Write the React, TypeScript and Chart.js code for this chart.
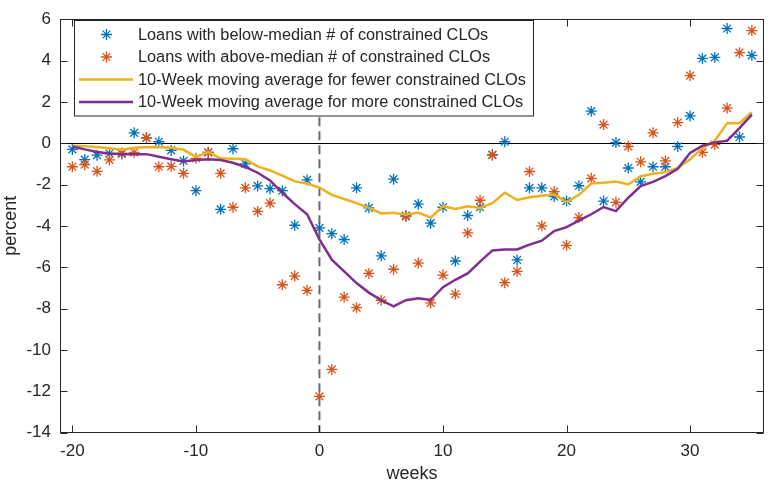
import React, { useEffect, useRef } from 'react';
import { Chart, registerables } from 'chart.js';
Chart.register(...registerables);

const weeks = [-20, -19, -18, -17, -16, -15, -14, -13, -12, -11, -10, -9, -8, -7, -6, -5, -4, -3, -2, -1, 0, 1, 2, 3, 4, 5, 6, 7, 8, 9, 10, 11, 12, 13, 14, 15, 16, 17, 18, 19, 20, 21, 22, 23, 24, 25, 26, 27, 28, 29, 30, 31, 32, 33, 34, 35];

const belowMedian = [-0.3, -0.8, -0.58, -0.5, -0.52, 0.5, 0.25, 0.07, -0.35, -0.86, -2.3, -0.45, -3.2, -0.27, -1.0, -2.07, -2.2, -2.3, -3.97, -1.78, -4.1, -4.38, -4.66, -2.16, -3.13, -5.45, -1.74, -3.5, -2.95, -3.87, -3.1, -5.7, -3.5, -3.1, -0.55, 0.07, -5.65, -2.16, -2.16, -2.58, -2.8, -2.06, 1.55, -2.8, 0.03, -1.2, -1.87, -1.14, -1.14, -0.16, 1.32, 4.1, 4.15, 5.55, 0.3, 4.25];

const aboveMedian = [-1.14, -1.04, -1.36, -0.81, -0.48, -0.45, 0.27, -1.14, -1.12, -1.46, -0.73, -0.44, -1.46, -3.1, -2.16, -3.3, -2.9, -6.85, -6.43, -7.12, -12.25, -10.95, -7.45, -7.96, -6.3, -7.6, -6.1, -3.55, -5.8, -7.73, -6.38, -7.3, -4.34, -2.76, -0.58, -6.75, -6.2, -1.37, -4.0, -2.34, -4.94, -3.6, -1.7, 0.9, -2.86, -0.15, -0.9, 0.5, -0.86, 1.0, 3.27, -0.44, -0.07, 1.7, 4.38, 5.45];

const maFewer = [-0.12, -0.15, -0.19, -0.25, -0.32, -0.22, -0.2, -0.19, -0.22, -0.32, -0.66, -0.43, -0.73, -0.75, -0.78, -1.12, -1.32, -1.57, -1.85, -1.95, -2.15, -2.5, -2.7, -2.9, -3.13, -3.4, -3.37, -3.46, -3.36, -3.6, -3.05, -3.18, -3.05, -3.13, -2.9, -2.4, -2.75, -2.62, -2.54, -2.48, -2.85, -2.5, -1.95, -1.92, -1.86, -2.0, -1.6, -1.48, -1.4, -1.2, -0.78, -0.25, 0.12, 0.97, 0.97, 1.5];

const maMore = [-0.16, -0.3, -0.43, -0.5, -0.53, -0.53, -0.53, -0.66, -0.78, -0.89, -0.81, -0.78, -0.81, -0.95, -1.15, -1.43, -1.8, -2.4, -2.95, -3.44, -4.65, -5.64, -6.2, -6.77, -7.23, -7.6, -7.9, -7.6, -7.51, -7.59, -6.97, -6.61, -6.3, -5.73, -5.19, -5.14, -5.14, -4.91, -4.72, -4.25, -4.06, -3.75, -3.44, -3.09, -3.29, -2.64, -2.08, -1.87, -1.59, -1.24, -0.47, -0.12, 0.04, 0.12, 0.73, 1.38];

const xTicks = [-20, -10, 0, 10, 20, 30];
const yTicks = [-14, -12, -10, -8, -6, -4, -2, 0, 2, 4, 6];

const legendLabels = [
  'Loans with below-median # of constrained CLOs',
  'Loans with above-median # of constrained CLOs',
  '10-Week moving average for fewer constrained CLOs',
  '10-Week moving average for more constrained CLOs',
];

const BLUE = '#0072BD';
const ORANGE = '#D95319';
const YELLOW = '#EDB120';
const PURPLE = '#7E2F8E';
const AX = '#262626';
const FONT = '"Liberation Sans", Arial, Helvetica, sans-serif';

function drawStar(ctx: CanvasRenderingContext2D, x: number, y: number, r: number, color: string) {
  ctx.save();
  ctx.strokeStyle = color;
  ctx.lineWidth = 1.3;
  ctx.beginPath();
  ctx.moveTo(x - r, y); ctx.lineTo(x + r, y);
  ctx.moveTo(x, y - r); ctx.lineTo(x, y + r);
  const d = r * Math.SQRT1_2;
  ctx.moveTo(x - d, y - d); ctx.lineTo(x + d, y + d);
  ctx.moveTo(x - d, y + d); ctx.lineTo(x + d, y - d);
  ctx.stroke();
  ctx.restore();
}

export default function App() {
  const ref = useRef<HTMLCanvasElement>(null);
  useEffect(() => {
    document.body.style.margin = '0';
    const canvas = ref.current!;
    const pts = (ys: number[]) => weeks.map((w, i) => ({ x: w, y: ys[i] }));

    const framePlugin = {
      id: 'frame',
      beforeDatasetsDraw(chart: any) {
        const { ctx, chartArea: a, scales } = chart;
        const x = scales.x, y = scales.y;
        ctx.save();
        const y0 = Math.round(y.getPixelForValue(0)) + 0.5;
        ctx.strokeStyle = '#000';
        ctx.lineWidth = 1;
        ctx.beginPath(); ctx.moveTo(a.left, y0); ctx.lineTo(a.right, y0); ctx.stroke();
        const x0 = x.getPixelForValue(0);
        ctx.strokeStyle = '#6a6a6a';
        ctx.lineWidth = 2;
        ctx.setLineDash([9, 5]);
        ctx.beginPath(); ctx.moveTo(x0, a.top); ctx.lineTo(x0, a.bottom); ctx.stroke();
        ctx.restore();
      },
      afterDraw(chart: any) {
        const { ctx, chartArea: a, scales } = chart;
        const x = scales.x, y = scales.y;
        ctx.save();
        ctx.strokeStyle = AX;
        ctx.lineWidth = 1;
        const L = Math.round(a.left) + 0.5, R = Math.round(a.right) - 0.5;
        const T = Math.round(a.top) + 0.5, B = Math.round(a.bottom) - 0.5;
        ctx.strokeRect(L, T, R - L, B - T);
        const tl = 7;
        ctx.beginPath();
        xTicks.forEach((v) => {
          const px = Math.round(x.getPixelForValue(v)) + 0.5;
          ctx.moveTo(px, B); ctx.lineTo(px, B - tl);
          ctx.moveTo(px, T); ctx.lineTo(px, T + tl);
        });
        yTicks.forEach((v) => {
          const py = Math.round(y.getPixelForValue(v)) + 0.5;
          ctx.moveTo(L, py); ctx.lineTo(L + tl, py);
          ctx.moveTo(R, py); ctx.lineTo(R - tl, py);
        });
        ctx.stroke();
        ctx.fillStyle = AX;
        ctx.font = `18px ${FONT}`;
        ctx.textAlign = 'center';
        ctx.textBaseline = 'middle';
        ctx.fillText('weeks', (a.left + a.right) / 2, 474);
        ctx.save();
        ctx.translate(11, (a.top + a.bottom) / 2);
        ctx.rotate(-Math.PI / 2);
        ctx.fillText('percent', 0, 0);
        ctx.restore();
        const bx = 74.5, by = 20.5, bw = 459, bh = 95.5;
        ctx.fillStyle = '#ffffff';
        ctx.fillRect(bx, by, bw, bh);
        ctx.strokeStyle = AX;
        ctx.lineWidth = 1;
        ctx.strokeRect(bx, by, bw, bh);
        const rows = [34.5, 57, 79.5, 102];
        drawStar(ctx, 106.5, rows[0], 5.5, BLUE);
        drawStar(ctx, 106.5, rows[1], 5.5, ORANGE);
        ctx.lineWidth = 2.5;
        ctx.strokeStyle = YELLOW;
        ctx.beginPath(); ctx.moveTo(79, rows[2]); ctx.lineTo(133, rows[2]); ctx.stroke();
        ctx.strokeStyle = PURPLE;
        ctx.beginPath(); ctx.moveTo(79, rows[3]); ctx.lineTo(133, rows[3]); ctx.stroke();
        ctx.fillStyle = AX;
        ctx.font = `16.3px ${FONT}`;
        ctx.textAlign = 'left';
        ctx.textBaseline = 'middle';
        legendLabels.forEach((t, i) => ctx.fillText(t, 138, rows[i] + 1));
        ctx.restore();
      },
    };

    const chart = new Chart(canvas, {
      type: 'scatter',
      data: {
        datasets: [
          { label: legendLabels[0], data: pts(belowMedian), showLine: false, pointStyle: 'star', pointRadius: 5.5, pointHoverRadius: 5.5, borderColor: BLUE, backgroundColor: BLUE, pointBorderWidth: 1.3, order: 4 },
          { label: legendLabels[1], data: pts(aboveMedian), showLine: false, pointStyle: 'star', pointRadius: 5.5, pointHoverRadius: 5.5, borderColor: ORANGE, backgroundColor: ORANGE, pointBorderWidth: 1.3, order: 3 },
          { label: legendLabels[2], data: pts(maFewer), showLine: true, pointRadius: 0, borderColor: YELLOW, backgroundColor: YELLOW, borderWidth: 2.5, tension: 0, order: 2 },
          { label: legendLabels[3], data: pts(maMore), showLine: true, pointRadius: 0, borderColor: PURPLE, backgroundColor: PURPLE, borderWidth: 2.5, tension: 0, order: 1 },
        ],
      } as any,
      options: {
        responsive: false,
        animation: false,
        devicePixelRatio: 1,
        layout: { padding: { top: 6, right: 2.5, left: 0, bottom: 0 } },
        plugins: { legend: { display: false }, tooltip: { enabled: false } },
        events: [],
        scales: {
          x: {
            type: 'linear',
            min: -21,
            max: 36,
            afterBuildTicks: (s: any) => { s.ticks = xTicks.map((v) => ({ value: v })); },
            afterFit: (s: any) => { s.height = 54.5; },
            grid: { display: false, drawTicks: false },
            border: { display: false },
            ticks: { font: { family: FONT, size: 17 }, color: AX, padding: 9, maxRotation: 0, autoSkip: false },
          },
          y: {
            type: 'linear',
            min: -14,
            max: 6,
            afterBuildTicks: (s: any) => { s.ticks = yTicks.map((v) => ({ value: v })); },
            afterFit: (s: any) => { s.width = 60; },
            grid: { display: false, drawTicks: false },
            border: { display: false },
            ticks: { font: { family: FONT, size: 17 }, color: AX, padding: 9, autoSkip: false },
          },
        },
      } as any,
      plugins: [framePlugin],
    });
    return () => chart.destroy();
  }, []);

  return (
    <div style={{ width: 771, height: 487 }}>
      <canvas ref={ref} width={771} height={487} style={{ display: 'block', width: 771, height: 487 }} />
    </div>
  );
}
